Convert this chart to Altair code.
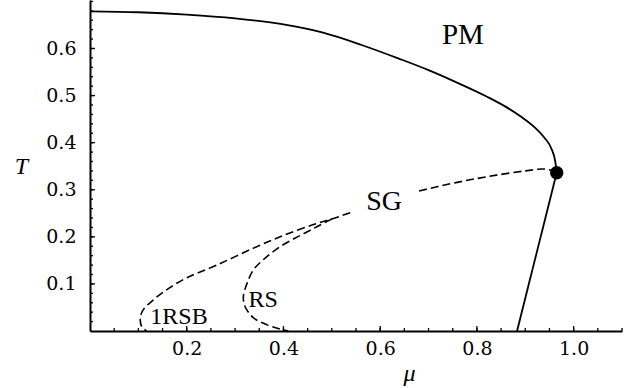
import altair as alt
import pandas as pd

# Phase boundary PM / SG (solid, upper)
pm_mu = [0.0, 0.1, 0.2, 0.3, 0.4, 0.48, 0.56, 0.64, 0.7, 0.76, 0.82, 0.86, 0.89, 0.92, 0.94, 0.955, 0.962, 0.965]
pm_T = [0.679, 0.677, 0.672, 0.664, 0.651, 0.634, 0.608, 0.578, 0.554, 0.527, 0.498, 0.476, 0.456, 0.432, 0.410, 0.385, 0.360, 0.336]

# Solid boundary from the tricritical point down to T = 0
low_mu = [0.965, 0.883]
low_T = [0.336, 0.0]

# 1RSB instability line (dashed), split around the SG label
rsb_hi_mu = [0.965, 0.94, 0.9, 0.84, 0.78, 0.72, 0.675]
rsb_hi_T = [0.338, 0.344, 0.340, 0.331, 0.320, 0.307, 0.296]
rsb_lo_mu = [0.538, 0.50, 0.462, 0.40, 0.338, 0.262, 0.20, 0.159, 0.131, 0.11, 0.104, 0.107, 0.117]
rsb_lo_T = [0.251, 0.238, 0.226, 0.203, 0.176, 0.140, 0.113, 0.088, 0.066, 0.045, 0.028, 0.009, 0.0]

# RS instability line (dashed)
rs_mu = [0.50, 0.47, 0.435, 0.393, 0.358, 0.338, 0.325, 0.317, 0.321, 0.338, 0.366, 0.393, 0.41]
rs_T = [0.238, 0.222, 0.203, 0.179, 0.151, 0.130, 0.102, 0.072, 0.051, 0.028, 0.013, 0.004, 0.0]

# Tricritical point
tc_mu = [0.965]
tc_T = [0.336]

# Region labels
label_text = ["PM", "SG", "RS", "1RSB"]
label_mu = [0.771, 0.608, 0.358, 0.184]
label_T = [0.628, 0.274, 0.066, 0.029]
label_size = [29, 28, 24, 24]

# Axis ticks
x_major = [0.2, 0.4, 0.6, 0.8, 1.0]
x_minor = [round(0.05 * i, 2) for i in range(1, 23)]
y_major = [0.1, 0.2, 0.3, 0.4, 0.5, 0.6]
y_minor = [round(0.02 * i, 2) for i in range(1, 36)]

X_DOMAIN = [0, 1.1]
Y_DOMAIN = [0, 0.703]
W, H = 532, 331

FONT = "Liberation Serif"
TICK_FONT = "DejaVu Serif"


def curve(name, mus, ts):
    return pd.DataFrame({"mu": mus, "T": ts, "curve": name, "idx": range(len(mus))})


pm_df = curve("pm", pm_mu, pm_T)
low_df = curve("low", low_mu, low_T)
dashed = pd.concat([
    curve("rsb_hi", rsb_hi_mu, rsb_hi_T),
    curve("rsb_lo", rsb_lo_mu, rsb_lo_T),
    curve("rs", rs_mu, rs_T),
])

xs = alt.Scale(domain=X_DOMAIN, nice=False, zero=False)
ys = alt.Scale(domain=Y_DOMAIN, nice=False, zero=False)

x_axis = alt.Axis(
    values=x_major, format=".1f", ticks=False, grid=False,
    domainColor="black", domainWidth=2,
    labelFont=TICK_FONT, labelFontSize=19, labelColor="black", labelPadding=8,
    title="μ", titleFont=FONT, titleFontStyle="italic", titleFontWeight="normal",
    titleFontSize=24, titleColor="black", titleX=319, titleY=42,
    titleBaseline="middle", titleAngle=0, titleAlign="center",
)
y_axis = alt.Axis(
    values=y_major, format=".1f", ticks=False, grid=False,
    domainColor="black", domainWidth=2,
    labelFont=TICK_FONT, labelFontSize=19, labelColor="black", labelPadding=14,
    title="T", titleFont=FONT, titleFontStyle="italic", titleFontWeight="normal",
    titleFontSize=24, titleColor="black", titleX=-69, titleY=166,
    titleBaseline="middle", titleAngle=0, titleAlign="center",
)


# Every layer shares the same scales and axis definitions
def X(f="mu:Q"):
    return alt.X(f, scale=xs, axis=x_axis)


def Y(f="T:Q"):
    return alt.Y(f, scale=ys, axis=y_axis)


pm_line = alt.Chart(pm_df).mark_line(
    color="black", strokeWidth=1.8, interpolate="monotone"
).encode(x=X(), y=Y(), order="idx:Q")

low_line = alt.Chart(low_df).mark_line(color="black", strokeWidth=1.8).encode(
    x=X(), y=Y(), order="idx:Q"
)

dashed_lines = alt.Chart(dashed).mark_line(
    color="black", strokeWidth=1.6, strokeDash=[8, 4], interpolate="catmull-rom"
).encode(x=X(), y=Y(), detail="curve:N", order="idx:Q")

point = alt.Chart(pd.DataFrame({"mu": tc_mu, "T": tc_T})).mark_circle(
    color="black", opacity=1, size=180
).encode(x=X(), y=Y())

labels = alt.Chart(pd.DataFrame({
    "text": label_text, "mu": label_mu, "T": label_T, "fs": label_size
})).mark_text(font=FONT, color="black", align="center", baseline="middle").encode(
    x=X(), y=Y(), text="text:N",
    size=alt.Size("fs:Q", scale=None, legend=None),
)


# Inward ticks along both axes
def x_tick_layer(values, length):
    return alt.Chart(pd.DataFrame({"mu": values})).mark_rule(
        color="black", strokeWidth=1.3
    ).encode(x=X(), y=alt.value(H), y2=alt.value(H - length))


def y_tick_layer(values, length):
    return alt.Chart(pd.DataFrame({"T": values})).mark_rule(
        color="black", strokeWidth=1.3
    ).encode(y=Y(), x=alt.value(0), x2=alt.value(length))


chart = alt.layer(
    pm_line, low_line, dashed_lines, point, labels,
    x_tick_layer(x_minor, 3), x_tick_layer(x_major, 5),
    y_tick_layer(y_minor, 3), y_tick_layer(y_major, 5),
).properties(
    width=W, height=H,
    autosize=alt.AutoSizeParams(type="none"),
    padding={"left": 90, "top": 0, "right": 14, "bottom": 57},
).configure_view(stroke=None)

chart.save("out.html", embed_options={"renderer": "svg", "actions": False})
